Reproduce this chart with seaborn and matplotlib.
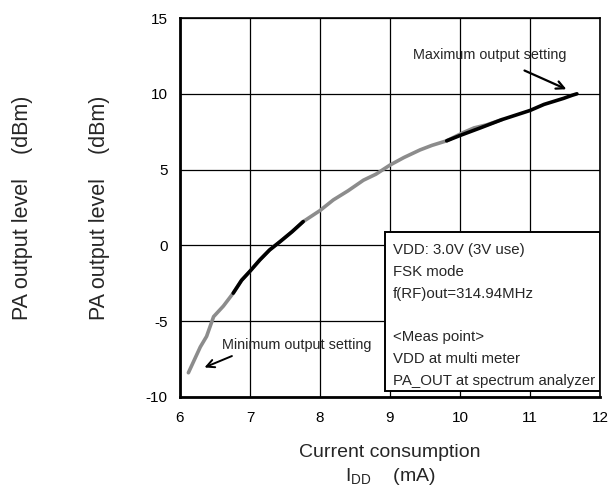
import matplotlib.pyplot as plt
import matplotlib.patches as patches
import pandas as pd
import seaborn as sns

# measured curve (gray trace, full sweep)
gray_x = [6.12, 6.2, 6.29, 6.38, 6.48, 6.62, 6.76, 6.88, 7.0, 7.14, 7.28, 7.43, 7.6, 7.76,
          8.0, 8.19, 8.4, 8.62, 8.8, 9.0, 9.2, 9.43, 9.6, 9.81, 10.05, 10.2, 10.38, 10.6]
gray_y = [-8.4, -7.6, -6.7, -6.0, -4.7, -4.0, -3.15, -2.3, -1.7, -0.96, -0.3, 0.25, 0.9, 1.57,
          2.3, 3.0, 3.6, 4.3, 4.7, 5.3, 5.8, 6.3, 6.6, 6.9, 7.45, 7.75, 7.95, 8.3]

# black trace segments
black1_x = [6.76, 6.88, 7.0, 7.14, 7.28, 7.43, 7.6, 7.76]
black1_y = [-3.15, -2.3, -1.7, -0.96, -0.3, 0.25, 0.9, 1.57]
black2_x = [9.81, 10.0, 10.29, 10.6, 11.0, 11.2, 11.48, 11.6, 11.67]
black2_y = [6.9, 7.25, 7.75, 8.3, 8.9, 9.3, 9.7, 9.9, 10.0]

x_ticks = [6, 7, 8, 9, 10, 11, 12]
y_ticks = [-10, -5, 0, 5, 10, 15]

box_lines = ["VDD: 3.0V (3V use)", "FSK mode", "f(RF)out=314.94MHz", "",
             "<Meas point>", "VDD at multi meter", "PA_OUT at spectrum analyzer"]

sns.set_theme(style="white")
plt.rcParams['font.family'] = ['Liberation Sans', 'DejaVu Sans']
plt.rcParams['mathtext.fontset'] = 'custom'
plt.rcParams['mathtext.rm'] = 'Liberation Sans'
plt.rcParams['axes.unicode_minus'] = False

fig = plt.figure(figsize=(6.15, 4.88), dpi=100)
ax = fig.add_axes([180 / 615, 91 / 488, 420 / 615, 379 / 488])

gray = pd.DataFrame({"x": gray_x, "y": gray_y})
black = pd.DataFrame({"x": black1_x + black2_x, "y": black1_y + black2_y,
                      "seg": [1] * len(black1_x) + [2] * len(black2_x)})
sns.lineplot(data=gray, x="x", y="y", color="#8c8c8c", lw=2.6, sort=False,
             estimator=None, ax=ax, zorder=2)
sns.lineplot(data=black, x="x", y="y", units="seg", color="black", lw=2.6, sort=False,
             estimator=None, ax=ax, zorder=2.1)

ax.set_xlim(6, 12)
ax.set_ylim(-10, 15)
ax.set_xticks(x_ticks)
ax.set_yticks(y_ticks)
ax.grid(True, color="black", lw=0.9)
ax.tick_params(length=0, labelsize=11, colors="black")
ax.tick_params(axis="x", pad=10)
ax.tick_params(axis="y", pad=9)
for side in ["left", "bottom"]:
    ax.spines[side].set_linewidth(2)
for side in ["top", "right"]:
    ax.spines[side].set_linewidth(1.2)
for s in ax.spines.values():
    s.set_color("black")

ax.set_xlabel("Current consumption\nI$_{\\rm DD}$    (mA)", fontsize=14, labelpad=14,
              linespacing=1.3)
ax.set_ylabel("")
fig.text(23 / 615, 1 - 208 / 488, "PA output level    (dBm)", rotation=90,
         ha="center", va="center", fontsize=15.5)
fig.text(100 / 615, 1 - 208 / 488, "PA output level    (dBm)", rotation=90,
         ha="center", va="center", fontsize=15.5)

ax.annotate("Maximum output setting", xy=(11.52, 10.3), xytext=(10.43, 12.55),
            ha="center", va="center", fontsize=10.4,
            arrowprops=dict(arrowstyle="->", lw=1.6, color="black",
                            shrinkA=9, shrinkB=0, mutation_scale=14))
ax.annotate("Minimum output setting", xy=(6.35, -8.05), xytext=(7.67, -6.55),
            ha="center", va="center", fontsize=10.4,
            arrowprops=dict(arrowstyle="->", lw=1.4, color="black",
                            relpos=(0.18, 0.2), shrinkA=2, shrinkB=0, mutation_scale=14))

rect = patches.Rectangle((0.488, 0.017), 0.512, 0.419, transform=ax.transAxes,
                         facecolor="white", edgecolor="black", lw=1.4, zorder=4)
ax.add_patch(rect)
for i, line in enumerate(box_lines):
    ax.text(0.507, 0.387 - i * 21.7 / 379, line, transform=ax.transAxes,
            ha="left", va="center", fontsize=10.8, zorder=5)

fig.savefig("out.png", dpi=100)
